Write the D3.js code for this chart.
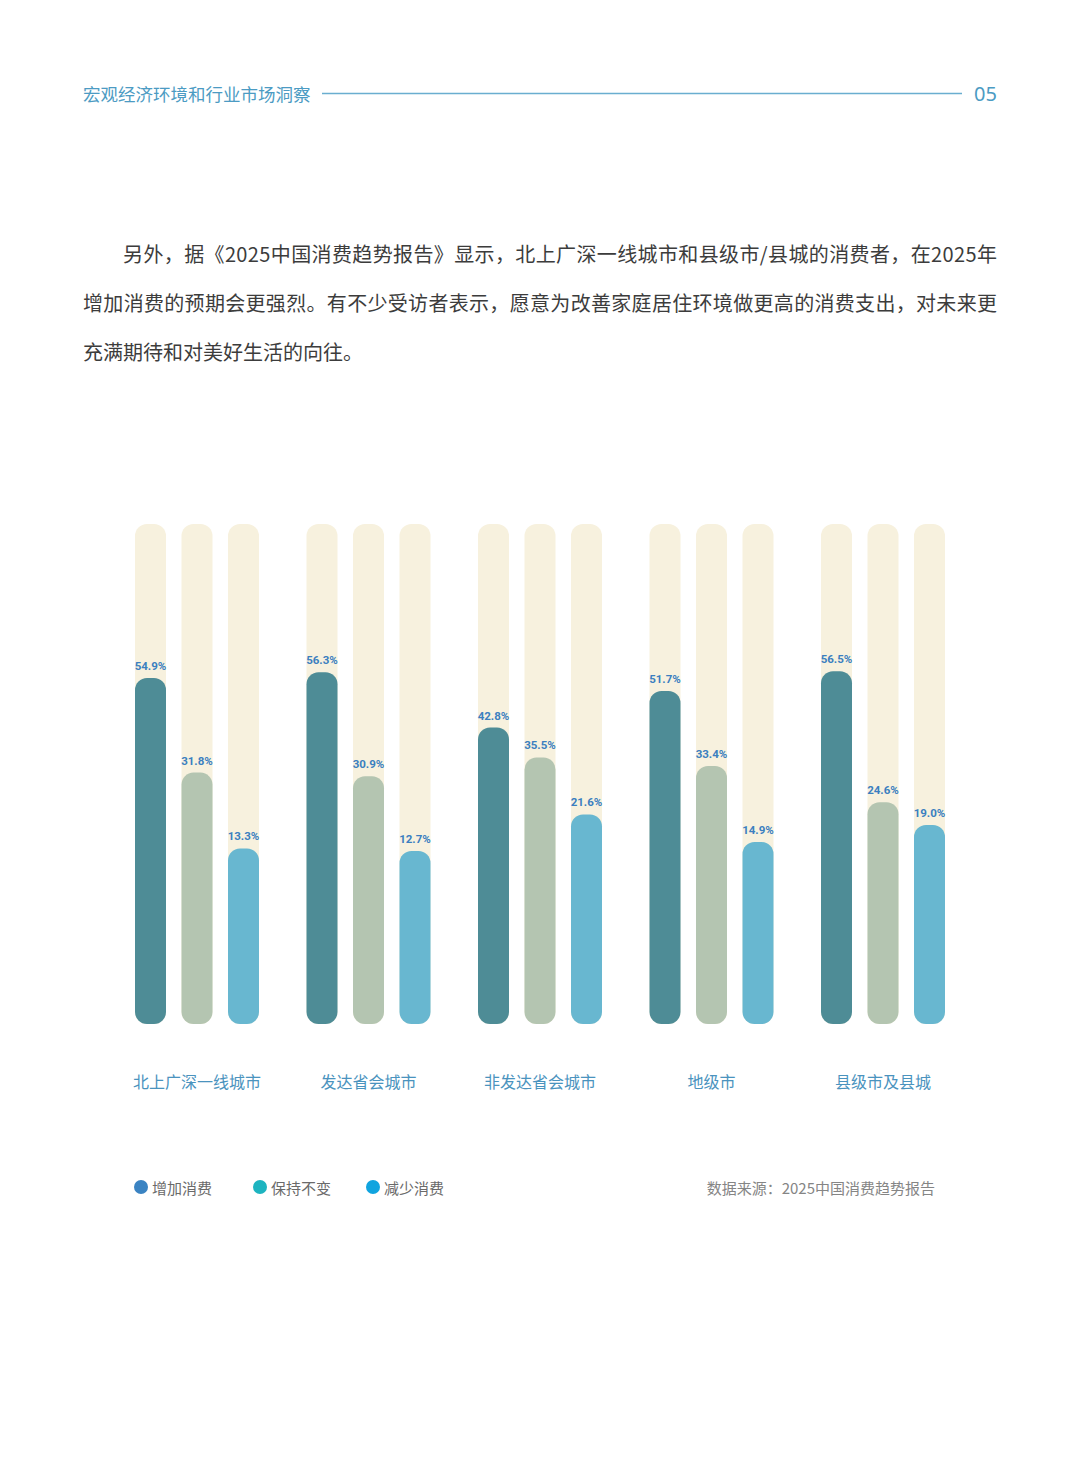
<!DOCTYPE html>
<html>
<head>
<meta charset="utf-8">
<script src="https://cdn.jsdelivr.net/npm/d3@7"></script>
<style>
  html, body { margin: 0; padding: 0; background: #ffffff; }
  svg { display: block; }
</style>
</head>
<body>
<svg id="chart" width="1080" height="1465"></svg>
<script>
// ---- Data ----
const categories = ["北上广深一线城市", "发达省会城市", "非发达省会城市", "地级市", "县级市及县城"];
const seriesNames = ["增加消费", "保持不变", "减少消费"];
const increaseValues = [54.9, 56.3, 42.8, 51.7, 56.5];
const unchangedValues = [31.8, 30.9, 35.5, 33.4, 24.6];
const decreaseValues = [13.3, 12.7, 21.6, 14.9, 19.0];
const paragraphLines = [
  "另外，据《2025中国消费趋势报告》显示，北上广深一线城市和县级市/县城的消费者，在2025年",
  "增加消费的预期会更强烈。有不少受访者表示，愿意为改善家庭居住环境做更高的消费支出，对未来更",
  "充满期待和对美好生活的向往。"
];
const headerTitle = "宏观经济环境和行业市场洞察";
const pageNumber = "05";
const sourceText = "数据来源：2025中国消费趋势报告";

// ---- Styles ----
const barColors = ["#4e8c96", "#b4c5b1", "#68b7d0"];
const legendColors = ["#3a83c2", "#1db4c0", "#10a4df"];
const trackColor = "#f7f1de";
const cjk = "'Noto Sans CJK SC', 'Noto Sans', sans-serif";

const svg = d3.select("#chart");

// ---- Header ----
svg.append("text")
  .attr("x", 83).attr("y", 93)
  .attr("dominant-baseline", "central")
  .attr("font-family", cjk).attr("font-size", 17.5)
  .attr("fill", "#4c9bc3")
  .text(headerTitle);
svg.append("line")
  .attr("x1", 322).attr("x2", 962).attr("y1", 93.5).attr("y2", 93.5)
  .attr("stroke", "#6aaed0").attr("stroke-width", 1.5);
svg.append("text")
  .attr("x", 997).attr("y", 93)
  .attr("text-anchor", "end")
  .attr("dominant-baseline", "central")
  .attr("font-family", "'Noto Sans', sans-serif").attr("font-size", 20)
  .attr("fill", "#4c9bc3")
  .text(pageNumber);

// ---- Paragraph ----
const paraX = [123, 83, 83];
const paraEnd = [997, 997, null];
paragraphLines.forEach((line, i) => {
  const t = svg.append("text")
    .attr("x", paraX[i]).attr("y", 253 + i * 49)
    .attr("dominant-baseline", "central")
    .attr("font-family", cjk).attr("font-size", 20)
    .attr("fill", "#3c3c3c")
    .text(line);
  if (paraEnd[i] !== null) {
    t.attr("textLength", paraEnd[i] - paraX[i]).attr("lengthAdjust", "spacing");
  }
});

// ---- Chart ----
const trackTop = 524, baseline = 1024;

const x0 = d3.scalePoint().domain(categories).range([135, 821]);
const x1 = d3.scaleBand().domain(seriesNames).range([0, 124]).paddingInner(1 / 3).paddingOuter(0);
// value scale: bars keep a base stub, as in the source design
const y = d3.scaleLinear().domain([0, 100]).range([baseline - 121, baseline - 531]);

const seriesValues = [increaseValues, unchangedValues, decreaseValues];
const rows = [];
categories.forEach((c, ci) => {
  seriesNames.forEach((s, si) => {
    rows.push({ cat: c, series: s, si: si, value: seriesValues[si][ci] });
  });
});

const bw = x1.bandwidth();
const g = svg.append("g");

// background tracks
g.selectAll("rect.track").data(rows).enter().append("rect")
  .attr("class", "track")
  .attr("x", d => x0(d.cat) + x1(d.series))
  .attr("y", trackTop)
  .attr("width", bw)
  .attr("height", baseline - trackTop)
  .attr("rx", 12).attr("ry", 12)
  .attr("fill", trackColor);

// value bars
g.selectAll("rect.bar").data(rows).enter().append("rect")
  .attr("class", "bar")
  .attr("x", d => x0(d.cat) + x1(d.series))
  .attr("y", d => y(d.value))
  .attr("width", bw)
  .attr("height", d => baseline - y(d.value))
  .attr("rx", 12).attr("ry", 12)
  .attr("fill", d => barColors[d.si]);

// value labels
g.selectAll("text.val").data(rows).enter().append("text")
  .attr("class", "val")
  .attr("x", d => x0(d.cat) + x1(d.series) + bw / 2)
  .attr("y", d => y(d.value) - 8)
  .attr("text-anchor", "middle")
  .attr("font-family", "'Liberation Sans Narrow', 'Arial Narrow', 'Roboto', sans-serif")
  .attr("font-weight", "bold")
  .attr("font-size", 11.5)
  .attr("fill", "#3b7fc0")
  .text(d => d.value.toFixed(1) + "%");

// category labels
g.selectAll("text.cat").data(categories).enter().append("text")
  .attr("class", "cat")
  .attr("x", d => x0(d) + 62)
  .attr("y", 1081)
  .attr("text-anchor", "middle")
  .attr("dominant-baseline", "central")
  .attr("font-family", cjk).attr("font-size", 16)
  .attr("fill", "#4a93be")
  .text(d => d);

// ---- Legend ----
const legendX = [141, 260, 373];
const legend = svg.append("g").selectAll("g").data(seriesNames).enter().append("g")
  .attr("transform", (d, i) => `translate(${legendX[i]},1187)`);
legend.append("circle").attr("r", 7).attr("fill", (d, i) => legendColors[i]);
legend.append("text")
  .attr("x", 11).attr("y", 0)
  .attr("dominant-baseline", "central")
  .attr("font-family", cjk).attr("font-size", 15)
  .attr("fill", "#6a6a6a")
  .text(d => d);

svg.append("text")
  .attr("x", 935).attr("y", 1187)
  .attr("text-anchor", "end")
  .attr("dominant-baseline", "central")
  .attr("font-family", cjk).attr("font-size", 15)
  .attr("fill", "#858585")
  .text(sourceText);
</script>
</body>
</html>
